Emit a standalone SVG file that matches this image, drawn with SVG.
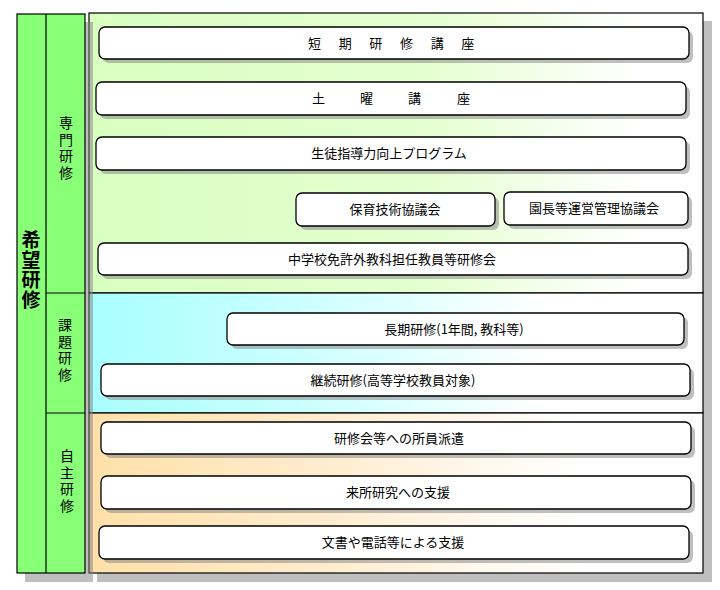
<svg xmlns="http://www.w3.org/2000/svg" width="720" height="590" viewBox="0 0 720 590">
<defs>
<linearGradient id="gGreen" x1="0" y1="0" x2="1" y2="0">
<stop offset="0" stop-color="#d8ffc0"/><stop offset="0.55" stop-color="#e4ffd0"/><stop offset="0.9" stop-color="#ffffff"/>
</linearGradient>
<linearGradient id="gCyan" x1="0" y1="0" x2="1" y2="0">
<stop offset="0" stop-color="#a8ffff"/><stop offset="0.35" stop-color="#ccffff"/><stop offset="0.75" stop-color="#ffffff"/>
</linearGradient>
<linearGradient id="gPeach" x1="0" y1="0" x2="1" y2="0">
<stop offset="0" stop-color="#ffe0a8"/><stop offset="0.4" stop-color="#ffedd0"/><stop offset="0.8" stop-color="#ffffff"/>
</linearGradient>
</defs>
<style>
.sh{fill:#808080;opacity:0.5}
.col{fill:#88ff77;stroke:#000;stroke-width:1.2}
.sec{stroke:#000;stroke-width:1.2}
.box{fill:#fff;stroke:#000;stroke-width:1.3}
.t{font-family:"Noto Sans CJK JP","Noto Sans CJK SC",sans-serif;font-size:13px;fill:#000}
.tc{text-anchor:middle}
.v{font-family:"Noto Sans CJK JP","Noto Sans CJK SC",sans-serif;font-size:14px;fill:#000;text-anchor:middle;writing-mode:vertical-rl;letter-spacing:2.5px}
.vb{font-family:"Noto Sans CJK JP","Noto Sans CJK SC",sans-serif;font-size:19px;font-weight:bold;fill:#000;text-anchor:middle;writing-mode:vertical-rl;letter-spacing:1px}
</style>

<g id="sections">
<rect class="sh" x="97" y="21" width="615" height="561"/>
<rect class="sec" x="89" y="13" width="614" height="280" fill="url(#gGreen)"/>
<rect class="sec" x="89" y="293" width="614" height="120" fill="url(#gCyan)"/>
<rect class="sec" x="89" y="413" width="614" height="160" fill="url(#gPeach)"/>
</g>

<g id="column">
<rect class="sh" x="25" y="22" width="68" height="560"/>
<rect class="col" x="17" y="14" width="68" height="559"/>
<line x1="46" y1="14" x2="46" y2="573" stroke="#000" stroke-width="1.2"/>
<line x1="46" y1="293" x2="85" y2="293" stroke="#000" stroke-width="1.2"/>
<line x1="46" y1="413" x2="85" y2="413" stroke="#000" stroke-width="1.2"/>
</g>

<g id="label-kibo"><text class="vb" x="31" y="270">希望研修</text></g>
<g id="label-senmon"><text class="v" x="66" y="149">専門研修</text></g>
<g id="label-kadai"><text class="v" x="65" y="351">課題研修</text></g>
<g id="label-jishu"><text class="v" x="67" y="482">自主研修</text></g>

<g id="n1">
<rect class="sh" x="103" y="31" width="590" height="32" rx="6"/>
<rect class="box" x="99" y="27" width="590" height="32" rx="6"/>
<text class="t" x="308 338.7 369.3 400 430.7 461.3" y="48">短期研修講座</text>
</g>
<g id="n2">
<rect class="sh" x="100" y="86" width="590" height="33" rx="6"/>
<rect class="box" x="96" y="82" width="590" height="33" rx="6"/>
<text class="t" x="312 360 408 457" y="103">土曜講座</text>
</g>
<g id="n3">
<rect class="sh" x="100" y="141" width="590" height="33" rx="6"/>
<rect class="box" x="96" y="137" width="590" height="33" rx="6"/>
<text class="t tc" x="389" y="158">生徒指導力向上プログラム</text>
</g>
<g id="n4">
<rect class="sh" x="300" y="197" width="199" height="33" rx="6"/>
<rect class="box" x="296" y="193" width="199" height="33" rx="6"/>
<text class="t tc" x="395" y="214">保育技術協議会</text>
</g>
<g id="n5">
<rect class="sh" x="508" y="196" width="184" height="33" rx="6"/>
<rect class="box" x="504" y="192" width="184" height="33" rx="6"/>
<text class="t tc" x="594" y="213">園長等運営管理協議会</text>
</g>
<g id="n6">
<rect class="sh" x="102" y="247" width="590" height="32" rx="6"/>
<rect class="box" x="98" y="243" width="590" height="32" rx="6"/>
<text class="t tc" x="392" y="264">中学校免許外教科担任教員等研修会</text>
</g>
<g id="n7">
<rect class="sh" x="231" y="317" width="457" height="32" rx="6"/>
<rect class="box" x="227" y="313" width="457" height="32" rx="6"/>
<text class="t tc" x="454" y="334">長期研修(1年間, 教科等)</text>
</g>
<g id="n8">
<rect class="sh" x="105" y="368" width="589" height="32" rx="6"/>
<rect class="box" x="101" y="364" width="589" height="32" rx="6"/>
<text class="t tc" x="393" y="385">継続研修(高等学校教員対象)</text>
</g>
<g id="n9">
<rect class="sh" x="105" y="426" width="590" height="32" rx="6"/>
<rect class="box" x="101" y="422" width="590" height="32" rx="6"/>
<text class="t tc" x="399" y="443">研修会等への所員派遣</text>
</g>
<g id="n10">
<rect class="sh" x="105" y="480" width="590" height="33" rx="6"/>
<rect class="box" x="101" y="476" width="590" height="33" rx="6"/>
<text class="t tc" x="398" y="497">来所研究への支援</text>
</g>
<g id="n11">
<rect class="sh" x="103" y="530" width="590" height="33" rx="6"/>
<rect class="box" x="99" y="526" width="590" height="33" rx="6"/>
<text class="t tc" x="393" y="547">文書や電話等による支援</text>
</g>

<g id="connectors"></g>
</svg>
